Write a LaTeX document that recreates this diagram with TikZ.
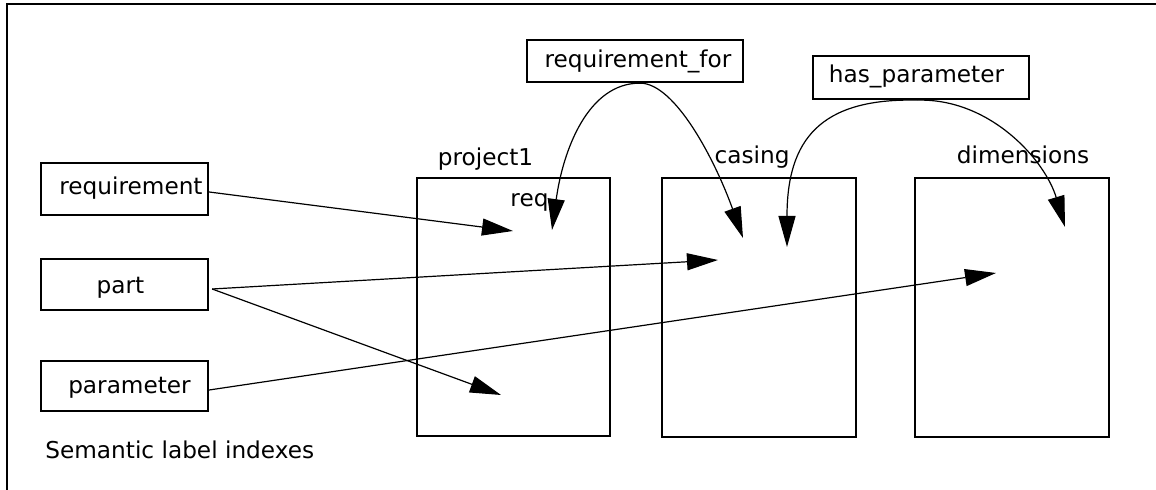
\documentclass[tikz,border=0pt]{standalone}
\usepackage{fontspec}
\setmainfont{DejaVu Sans}
\usetikzlibrary{arrows.meta}
\begin{document}
\begin{tikzpicture}[x=0.5pt,y=-0.5pt,
  box/.style={draw=black,line width=1.15pt,rectangle,inner sep=0pt},
  lbl/.style={inner sep=0pt,anchor=base,font=\fontsize{11.6}{13.9}\selectfont},
  conn/.style={line width=0.6pt,-{Triangle[length=15.5pt,width=8.5pt]}}]
\useasboundingbox (0,0) rectangle (1156,490);
\draw[line width=0.7pt] (7,490) -- (7,4) -- (1156,4);
% left boxes
\node[box,minimum width=83.5pt,minimum height=26pt] (req) at (124.5,189) {};
\node[box,minimum width=83.5pt,minimum height=25.5pt] (part) at (124.5,284.5) {};
\node[box,minimum width=83.5pt,minimum height=25pt] (param) at (124.5,386) {};
\node[lbl] (reqt) at (131,195) {requirement};
\node[lbl] (partt) at (120.5,294) {part};
\node[lbl] (paramt) at (129.5,394) {parameter};
\node[lbl,anchor=base west] (sem) at (45,459) {Semantic label indexes};
% big boxes
\node[box,minimum width=96.5pt,minimum height=129pt] (proj) at (513.5,307) {};
\node[box,minimum width=97pt,minimum height=129.5pt] (cas) at (759,307.5) {};
\node[box,minimum width=97pt,minimum height=129.5pt] (dim) at (1012,307.5) {};
\node[lbl] (projt) at (485.5,166) {project1};
\node[lbl] (cast) at (752,164) {casing};
\node[lbl] (dimt) at (1023,164) {dimensions};
\node[lbl] (reqq) at (529.5,207) {req};
% relation boxes
\node[box,minimum width=108pt,minimum height=21pt] (rf) at (635,61) {};
\node[box,minimum width=108pt,minimum height=21.5pt] (hp) at (921,77.5) {};
\node[lbl] (rft) at (638,68) {requirement\_for};
\node[lbl] (hpt) at (916.5,82.5) {has\_parameter};
% tips
\coordinate (t1) at (513,231);
\coordinate (t2) at (718,260);
\coordinate (t3) at (501,395);
\coordinate (t4) at (996,273);
\coordinate (t5) at (552,230);
\coordinate (t6) at (743,238);
\coordinate (t7) at (787,247);
\coordinate (t8) at (1065,227);
% straight connectors
\draw[conn] ([yshift=-1.5pt]req.east) -- (t1);
\draw[conn] ([xshift=1.5pt,yshift=-2.25pt]part.east) -- (t2);
\draw[conn] ([xshift=1.5pt,yshift=-2.25pt]part.east) -- (t3);
\draw[conn] ([yshift=-2pt]param.east) -- (t4);
% curved connectors
\draw[conn] ([xshift=2.5pt]rf.south) .. controls (588,83) and (563,150) .. (t5);
\draw[conn] ([xshift=2.5pt]rf.south) .. controls (675,83) and (715,160) .. (t6);
\draw[conn] ([xshift=-2pt]hp.south) .. controls (820,98) and (787,140) .. (t7);
\draw[conn] ([xshift=-2pt]hp.south) .. controls (990,98) and (1045,160) .. (t8);
\end{tikzpicture}
\end{document}
